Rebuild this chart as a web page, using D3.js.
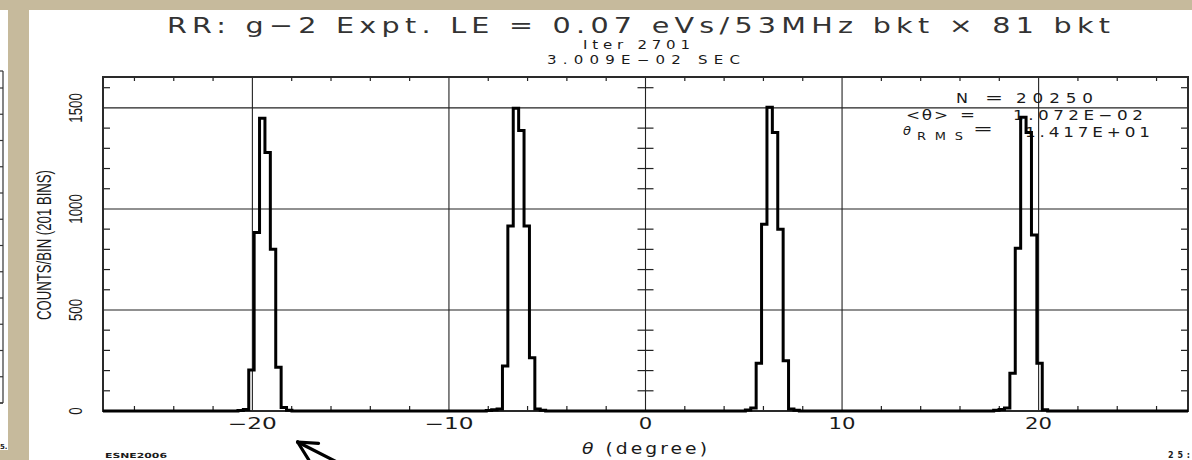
<!DOCTYPE html>
<html><head><meta charset="utf-8">
<script src="https://cdn.jsdelivr.net/npm/d3@7"></script>
<style>
html,body{margin:0;padding:0;background:#c6ba9c;}
svg{display:block;}
</style></head><body>
<svg id="c" width="1192" height="460"></svg>
<script>
// ---------- data ----------
const title = "RR: g\u22122 Expt. LE = 0.07 eVs/53MHz bkt \u00d7 81 bkt";
const subtitle1 = "Iter 2701";
const subtitle2 = "3.009E\u221202 SEC";
const xLabel = "(degree)";
const yLabel = "COUNTS/BIN (201 BINS)";
const xDomain = [-27.6, 27.6];
const yDomain = [0, 1653];
const nBins = 201;
const xTickValues = [-20, -10, 0, 10, 20];
const xTickLabels = ["\u221220", "\u221210", "0", "10", "20"];
const yTickValues = [0, 500, 1000, 1500];
const yTickLabels = ["0", "500", "1000", "1500"];
const peakStartBins = [25, 71, 119, 165];
const peak1Counts = [3, 8, 203, 883, 1449, 1279, 800, 216, 17, 4];
const peak2Counts = [3, 6, 10, 223, 916, 1498, 1388, 916, 264, 10, 4];
const peak3Counts = [5, 15, 236, 924, 1503, 1378, 899, 249, 10, 4];
const peak4Counts = [4, 8, 15, 187, 805, 1454, 1378, 871, 236, 6];
const statN = "20250";
const statMean = "1.072E\u221202";
const statRms = "1.417E+01";
const footLeft = "ESNE2006";
const footRight = "25:";

// ---------- build bins ----------
const counts = new Array(nBins).fill(0);
[peak1Counts, peak2Counts, peak3Counts, peak4Counts].forEach((arr, i) => {
  arr.forEach((c, j) => { counts[peakStartBins[i] + j] = c; });
});
const binW = (xDomain[1] - xDomain[0]) / nBins;
const edges = d3.range(nBins + 1).map(k => xDomain[0] + k * binW);
const pts = counts.map((c, k) => [edges[k], c]);
pts.push([edges[nBins], counts[nBins - 1]]);

// ---------- layout ----------
const svg = d3.select("#c");
const L = 103, R = 1188, T = 77, B = 411;
const x = d3.scaleLinear().domain(xDomain).range([L, R]);
const y = d3.scaleLinear().domain(yDomain).range([B, T]);
const HF = "'DejaVu Sans', 'Liberation Sans', sans-serif";
const ink = "#1a1a1a";

// panels
svg.append("rect").attr("x", 0).attr("y", 10).attr("width", 8).attr("height", 440).attr("fill", "#fff");
svg.append("rect").attr("x", 29).attr("y", 10).attr("width", 1163).attr("height", 450).attr("fill", "#fff");

// left partial chart edge
const ly = d3.scaleLinear().domain([0, 12]).range([403, 88]);
const lg = svg.append("g").attr("stroke", "#333").attr("stroke-width", 1.2);
lg.append("line").attr("x1", 3).attr("x2", 3).attr("y1", 71).attr("y2", 403);
lg.append("line").attr("x1", 0).attr("x2", 3).attr("y1", 71).attr("y2", 71);
lg.append("line").attr("x1", 0).attr("x2", 3).attr("y1", 403).attr("y2", 403);
lg.selectAll("line.t").data(d3.range(13)).join("line").attr("class", "t")
  .attr("x1", 0).attr("x2", 3).attr("y1", d => ly(d)).attr("y2", d => ly(d));
svg.append("text").attr("x", 0).attr("y", 449).attr("font-family", HF).attr("font-size", 7).attr("font-weight", "bold").attr("fill", ink).text("5.");

// grid
const grid = svg.append("g").attr("stroke", "#222").attr("stroke-width", 1.1);
grid.selectAll("line.v").data(xTickValues).join("line").attr("class", "v")
  .attr("x1", d => x(d)).attr("x2", d => x(d)).attr("y1", T).attr("y2", B);
grid.selectAll("line.h").data(yTickValues.filter(v => v > 0)).join("line").attr("class", "h")
  .attr("x1", L).attr("x2", R).attr("y1", d => y(d)).attr("y2", d => y(d));

// minor ticks
const tk = svg.append("g").attr("stroke", "#222").attr("stroke-width", 1.2);
const xMinor = d3.range(-26, 27, 2).filter(v => v % 10 !== 0);
const yMinor = d3.range(100, yDomain[1], 100).filter(v => v % 500 !== 0);
tk.selectAll("line.xt").data(xMinor).join("line").attr("class", "xt")
  .attr("x1", d => x(d)).attr("x2", d => x(d)).attr("y1", T).attr("y2", T + 4);
tk.selectAll("line.xb").data(xMinor).join("line").attr("class", "xb")
  .attr("x1", d => x(d)).attr("x2", d => x(d)).attr("y1", B).attr("y2", B - 5);
tk.selectAll("line.yl").data(yMinor).join("line").attr("class", "yl")
  .attr("x1", L).attr("x2", L + 7).attr("y1", d => y(d)).attr("y2", d => y(d));
tk.selectAll("line.yr").data(yMinor).join("line").attr("class", "yr")
  .attr("x1", R).attr("x2", R - 7).attr("y1", d => y(d)).attr("y2", d => y(d));
tk.selectAll("line.yc").data(yMinor).join("line").attr("class", "yc")
  .attr("x1", x(0) - 8).attr("x2", x(0) + 8).attr("y1", d => y(d)).attr("y2", d => y(d));

// frame
svg.append("rect").attr("x", L).attr("y", T).attr("width", R - L).attr("height", B - T)
  .attr("fill", "none").attr("stroke", "#2a2a2a").attr("stroke-width", 2);

// text helper: sx widens glyphs, textLength fixes total width
function t(s, xx, yy, size, tl, opts = {}) {
  const sx = opts.sx || 1;
  const e = svg.append("text").attr("x", xx / sx).attr("y", yy).attr("font-family", opts.font || HF)
    .attr("font-size", size).attr("fill", ink).text(s);
  if (sx !== 1) e.attr("transform", `scale(${sx},1)`);
  if (tl) e.attr("textLength", tl / sx).attr("lengthAdjust", opts.adj || "spacingAndGlyphs");
  if (opts.anchor) e.attr("text-anchor", opts.anchor);
  if (opts.italic) e.attr("font-style", "italic");
  if (opts.weight) e.attr("font-weight", opts.weight);
  return e;
}
t(title, 167, 33, 22, 943, { adj: "spacing", sx: 1.3 }).attr("fill", "#333");
t(subtitle1, 583, 49, 12, 107, { adj: "spacing", sx: 1.25 });
t(subtitle2, 547, 64, 12, 193, { adj: "spacing", sx: 1.25 });

// stats box text
t("N", 956, 103, 14, 12);
t("=", 985, 103, 14, 18);
t(statN, 1016, 103, 14, 77, { adj: "spacing", sx: 1.2 });
t("<\u03b8>", 906, 120, 14, 42, { adj: "spacing", sx: 1.2 });
t("=", 960, 120, 14, 15);
t(statMean, 1013, 120, 14, 130, { adj: "spacing", sx: 1.2 });
t("\u03b8", 903, 135, 12, 8, { italic: true });
t("RMS", 917, 140, 10, 46, { adj: "spacing", sx: 1.3 });
t("=", 973, 134, 14, 20);
t(statRms, 1025, 137, 14, 125, { adj: "spacing", sx: 1.2 });

// x tick labels
const xLabW = s => [...s].reduce((a, ch) => a + (ch === "\u2212" ? 22 : 13.5), 0);
svg.selectAll("text.xl").data(xTickValues).join("text").attr("class", "xl")
  .attr("x", d => x(d)).attr("y", 429).attr("text-anchor", "middle")
  .attr("font-family", HF).attr("font-size", 15).attr("fill", ink)
  .attr("textLength", (d, i) => xLabW(xTickLabels[i])).attr("lengthAdjust", "spacingAndGlyphs")
  .text((d, i) => xTickLabels[i]);

// y tick labels
svg.selectAll("text.yl").data(yTickValues).join("text").attr("class", "yl")
  .attr("transform", d => `translate(82,${y(d)}) rotate(-90) scale(0.7,1)`)
  .attr("text-anchor", "middle").attr("font-family", "'Liberation Sans', Arial, sans-serif")
  .attr("font-size", 19).attr("fill", ink)
  .text((d, i) => yTickLabels[i]);

// y title
svg.append("text").attr("transform", "translate(51,245) rotate(-90)")
  .attr("text-anchor", "middle").attr("font-family", "'Liberation Sans', Arial, sans-serif")
  .attr("font-size", 20).attr("fill", ink)
  .attr("textLength", 150).attr("lengthAdjust", "spacingAndGlyphs").text(yLabel);

// x title
const xsx = 1.25;
const xt = svg.append("text").attr("x", 582 / xsx).attr("y", 454).attr("transform", `scale(${xsx},1)`)
  .attr("font-family", HF).attr("font-size", 15).attr("fill", ink)
  .attr("textLength", 125 / xsx).attr("lengthAdjust", "spacing");
xt.append("tspan").attr("font-style", "italic").text("\u03b8");
xt.append("tspan").text(" " + xLabel);

// footers
t(footLeft, 105, 458, 7, 62, { weight: "bold" });
t(footRight, 1168, 458, 8, 22, { weight: "bold", adj: "spacing" });

// histogram
const line = d3.line().x(d => x(d[0])).y(d => y(d[1])).curve(d3.curveStepAfter);
svg.append("path").datum(pts).attr("d", line).attr("fill", "none")
  .attr("stroke", "#000").attr("stroke-width", 3).attr("stroke-linejoin", "miter");

// arrow annotation
const tipX = x(-17.7), tipY = B + 31;
const ag = svg.append("g").attr("stroke", "#000").attr("stroke-width", 3.2).attr("stroke-linecap", "round");
const ang = a => a * Math.PI / 180;
ag.append("line").attr("x1", tipX).attr("y1", tipY).attr("x2", tipX + 60 * Math.cos(ang(27))).attr("y2", tipY + 60 * Math.sin(ang(27)));
ag.append("line").attr("x1", tipX).attr("y1", tipY).attr("x2", tipX + 21 * Math.cos(ang(4))).attr("y2", tipY + 21 * Math.sin(ang(4)));
ag.append("line").attr("x1", tipX).attr("y1", tipY).attr("x2", tipX + 21 * Math.cos(ang(58))).attr("y2", tipY + 21 * Math.sin(ang(58)));
</script>
</body></html>
